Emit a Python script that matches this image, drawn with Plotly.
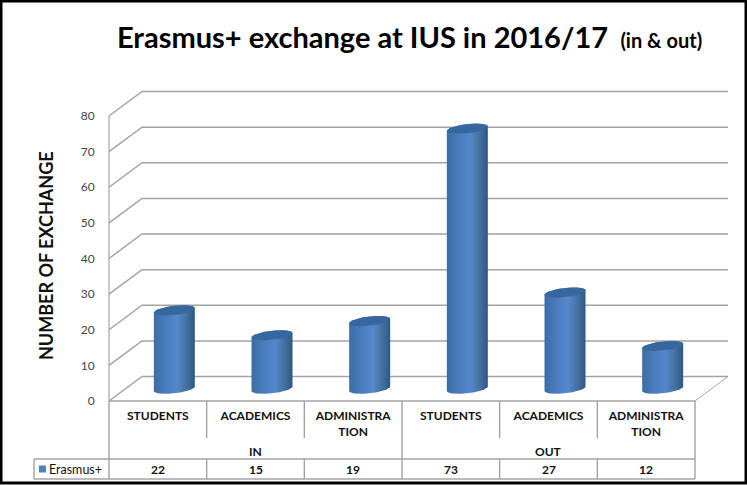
import numpy as np
import plotly.graph_objects as go

groups = ["IN", "OUT"]
categories = ["STUDENTS", "ACADEMICS", "ADMINISTRA<br>TION", "STUDENTS", "ACADEMICS", "ADMINISTRA<br>TION"]
values = [22, 15, 19, 73, 27, 12]
y_ticks = [0, 10, 20, 30, 40, 50, 60, 70, 80]
series_name = "Erasmus+"

W, H = 747, 485
LEFT, RIGHT, TOP, BOTTOM = 109, 695, 116, 401
PX_X = (RIGHT - LEFT) / 6
PX_Y = (BOTTOM - TOP) / 80
DX = 33 / PX_X    # depth of the 3d box
DY = 24.5 / PX_Y
FONT = "Lato, Carlito, Calibri, sans-serif"
GRID = "#a3a3a3"


def py(p):
    # pixel row -> axis units, the axes span the whole canvas
    return (BOTTOM - p) / PX_Y


def px(p):
    return (p - LEFT) / PX_X


fig = go.Figure()


def line(xs, ys, color=GRID, width=1.3):
    fig.add_trace(go.Scatter(x=xs, y=ys, mode="lines", line=dict(color=color, width=width),
                             showlegend=False, hoverinfo="skip"))


# back wall + side wall
for t in y_ticks:
    line([0, DX, 6 + DX], [t, t + DY, t + DY], width=1.5)
line([0, 0], [0, 80], width=1.2)
# floor
line([6, 6 + DX], [0, DY], width=1)

# table under the chart
xs, ys = [], []
for i in range(7):
    bottom = py(479) if i in (0, 3, 6) else py(438)
    xs += [i, i, None]
    ys += [0, bottom, None]
    if i not in (0, 3, 6):
        xs += [i, i, None]
        ys += [py(459), py(479), None]
xs += [0, 6, None, px(34), 6, None, px(34), 6, None, px(34), px(34)]
ys += [0, 0, None, py(459), py(459), None, py(479), py(479), None, py(459), py(479)]
line(xs, ys, width=1.4)


def ellipse(cx, cy, start, stop):
    t = np.linspace(start, stop, 40)
    ex = cx + 20.5 / PX_X * np.cos(t)
    ey = cy + (4.6 * np.sin(t) + 2.2 * np.cos(t)) / PX_Y
    return ex, ey


# cylinders
for i, v in enumerate(values):
    cx = i + 0.5 + DX / 2
    base = DY / 2
    bx, by = ellipse(cx, base, np.pi, 2 * np.pi)
    tx, ty = ellipse(cx, base + v, 0, np.pi)
    fig.add_trace(go.Scatter(
        x=np.r_[bx, tx], y=np.r_[by, ty], mode="lines", fill="toself",
        line=dict(width=0, color="rgba(0,0,0,0)"),
        fillgradient=dict(type="horizontal", colorscale=[
            [0, "#3c6da6"], [0.3, "#4a7dbd"], [0.58, "#5488ca"], [0.8, "#45719f"], [1, "#2f5786"]]),
        showlegend=False, name=categories[i], hoverinfo="skip"))
    cap_x, cap_y = ellipse(cx, base + v, 0, 2 * np.pi)
    fig.add_trace(go.Scatter(
        x=cap_x, y=cap_y, mode="lines", fill="toself", line=dict(width=0, color="#38679f"),
        fillcolor="#38679f", showlegend=False, hoverinfo="skip"))

# legend key in the table
fig.add_trace(go.Scatter(x=[px(42.5)], y=[py(469)], mode="markers",
                         marker=dict(symbol="square", size=7, color="#4f81bd"),
                         showlegend=False, name=series_name, hoverinfo="skip"))

annotations = [dict(x=px(47), y=py(469), text=series_name, xanchor="left", yanchor="middle", showarrow=False,
                    font=dict(family=FONT, size=12.5, color="#111111")),
               dict(x=px(46), y=py(256), text="<b>NUMBER OF EXCHANGE</b>", textangle=-90, showarrow=False,
                    font=dict(family=FONT, size=18, color="#111111"))]
for i, v in enumerate(values):
    annotations.append(dict(x=i + 0.5, y=py(469.5), text=f"<b>{v}</b>", showarrow=False,
                            font=dict(family=FONT, size=12, color="#111111")))
for j, g in enumerate(groups):
    annotations.append(dict(x=3 * j + 1.5, y=py(451), text=f"<b>{g}</b>", showarrow=False,
                            font=dict(family=FONT, size=12, color="#111111")))

fig.update_layout(
    width=W, height=H, autosize=False,
    margin=dict(l=0, r=0, t=0, b=0),
    paper_bgcolor="white", plot_bgcolor="white",
    font=dict(family=FONT),
    showlegend=False,
    title=dict(
        text='<b>Erasmus+ exchange at IUS in 2016/17</b> <b><span style="font-size:20px">&nbsp;(in &amp; out)</span></b>',
        x=117 / W, xanchor="left", y=1 - 38 / H, yanchor="middle",
        font=dict(family=FONT, size=29, color="#000000")),
    annotations=annotations,
    xaxis=dict(range=[px(0), px(W)], anchor="free", position=(H - BOTTOM) / H,
               tickmode="array", tickvals=[i + 0.5 for i in range(6)], ticktext=[f"<b>{c}</b>" for c in categories],
               ticks="outside", ticklen=4, tickcolor="rgba(0,0,0,0)", showgrid=False, zeroline=False, showline=False,
               tickangle=0, tickfont=dict(family=FONT, size=12, color="#111111")),
    yaxis=dict(range=[py(H), py(0)], anchor="free", position=LEFT / W,
               tickmode="array", tickvals=y_ticks, ticks="outside", ticklen=12,
               tickcolor="rgba(0,0,0,0)", showgrid=False, zeroline=False, showline=False,
               tickfont=dict(family=FONT, size=12, color="#444444")),
    shapes=[dict(type="rect", xref="paper", yref="paper",
                 x0=1 / W, x1=746 / W, y0=2 / H, y1=1 - 1 / H,
                 line=dict(color="#000000", width=3), fillcolor="rgba(0,0,0,0)", layer="above")],
)

fig.write_html("out.html", config=dict(displayModeBar=False),
               post_script="document.body.style.margin='0';document.body.style.overflow='hidden';")
